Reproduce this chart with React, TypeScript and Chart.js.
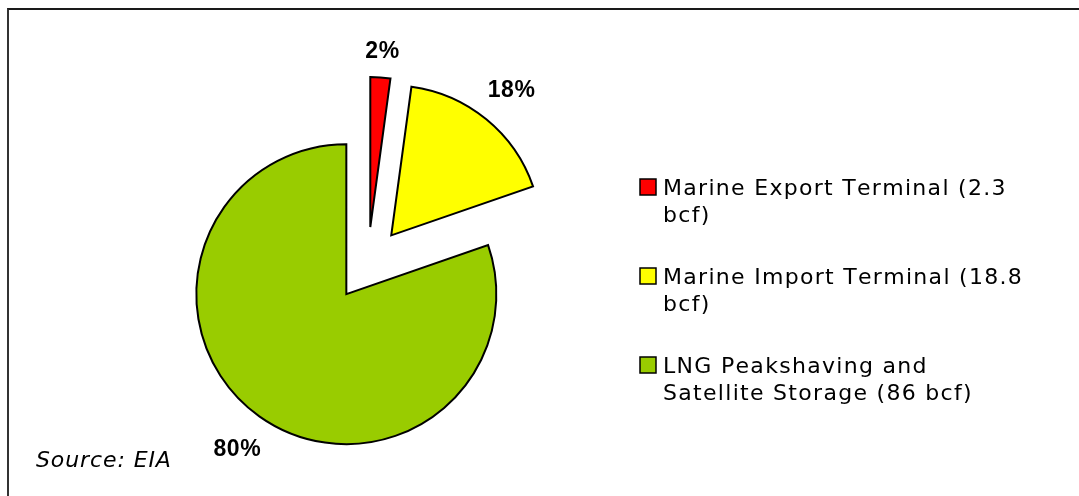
import React, { useEffect, useRef } from 'react';
import { Chart, registerables } from 'chart.js';

Chart.register(...registerables);

// ---- data ----
const categories = [
  'Marine Export Terminal (2.3 bcf)',
  'Marine Import Terminal (18.8 bcf)',
  'LNG Peakshaving and Satellite Storage (86 bcf)',
];
const legendLines = [
  ['Marine Export Terminal (2.3', 'bcf)'],
  ['Marine Import Terminal (18.8', 'bcf)'],
  ['LNG Peakshaving and', 'Satellite Storage (86 bcf)'],
];
const values = [2.3, 18.8, 86];
const colors = ['#FF0000', '#FFFF00', '#99CC00'];
const sourceText = 'Source: EIA';

// ---- helpers ----
function spacedWidth(ctx: CanvasRenderingContext2D, text: string, ls: number) {
  if (!ls) return ctx.measureText(text).width;
  let w = 0;
  for (const ch of text) w += ctx.measureText(ch).width + ls;
  return w - ls;
}
function drawSpaced(ctx: CanvasRenderingContext2D, text: string, x: number, y: number, ls: number) {
  if (!ls) {
    ctx.fillText(text, x, y);
    return;
  }
  let cx = x;
  for (const ch of text) {
    ctx.fillText(ch, cx, y);
    cx += ctx.measureText(ch).width + ls;
  }
}

const explodePlugin = {
  id: 'explodeDraw',
  beforeDatasetDraw(chart: any, args: any, opts: any) {
    const ctx = chart.ctx;
    const d = opts.distance || 0;
    args.meta.data.forEach((arc: any) => {
      const half = (arc.startAngle + arc.endAngle) / 2;
      ctx.save();
      ctx.translate(Math.cos(half) * d, Math.sin(half) * d);
      arc.draw(ctx);
      ctx.restore();
    });
    return false;
  },
};

const pctLabelPlugin = {
  id: 'pctLabels',
  afterDatasetsDraw(chart: any, _args: any, opts: any) {
    const ctx = chart.ctx;
    const meta = chart.getDatasetMeta(0);
    const data = chart.data.datasets[0].data as number[];
    const total = data.reduce((a, b) => a + b, 0);
    ctx.save();
    ctx.font = opts.font;
    ctx.fillStyle = '#000';
    ctx.textBaseline = 'alphabetic';
    ctx.textAlign = 'left';
    meta.data.forEach((arc: any, i: number) => {
      const txt = Math.round((data[i] / total) * 100) + '%';
      const half = (arc.startAngle + arc.endAngle) / 2;
      const dx = Math.cos(half), dy = Math.sin(half);
      const w = spacedWidth(ctx, txt, opts.letterSpacing);
      const h = opts.height;
      const r = arc.outerRadius + opts.explode + opts.gap + Math.abs(dx) * w / 2 + Math.abs(dy) * h / 2;
      const cx = arc.x + dx * r;
      const cy = arc.y + dy * r;
      drawSpaced(ctx, txt, cx - w / 2, cy + h / 2, opts.letterSpacing);
    });
    ctx.restore();
  },
};

const legendPlugin = {
  id: 'sideLegend',
  afterDraw(chart: any, _args: any, opts: any) {
    const ctx = chart.ctx;
    const ds = chart.data.datasets[0];
    ctx.save();
    ctx.font = opts.font;
    ctx.textBaseline = 'alphabetic';
    ctx.textAlign = 'left';
    opts.lines.forEach((lines: string[], i: number) => {
      const base = opts.y + i * opts.itemGap;
      ctx.fillStyle = ds.backgroundColor[i];
      ctx.fillRect(opts.x, base - opts.box, opts.box, opts.box);
      ctx.lineWidth = 1.5;
      ctx.strokeStyle = '#000';
      ctx.strokeRect(opts.x, base - opts.box, opts.box, opts.box);
      ctx.fillStyle = '#000';
      lines.forEach((ln, j) => {
        drawSpaced(ctx, ln, opts.x + opts.box + opts.textGap, base + j * opts.lineHeight, opts.letterSpacing);
      });
    });
    // source note
    ctx.font = opts.sourceFont;
    drawSpaced(ctx, opts.source, opts.sourceX, opts.sourceY, opts.sourceSpacing);
    ctx.restore();
  },
};

export default function App() {
  const ref = useRef<HTMLCanvasElement | null>(null);
  useEffect(() => {
    if (!ref.current) return;
    const chart = new Chart(ref.current, {
      type: 'pie',
      data: {
        labels: categories,
        datasets: [
          {
            data: values,
            backgroundColor: colors,
            borderColor: '#000000',
            borderWidth: 2,
            borderJoinStyle: 'miter',
          } as any,
        ],
      },
      options: {
        responsive: false,
        animation: false,
        radius: 150,
        layout: { padding: { left: 0, right: 343.4, top: 32, bottom: 0 } },
        plugins: {
          legend: { display: false },
          tooltip: { enabled: false },
          explodeDraw: { distance: 37 },
          pctLabels: {
            font: 'bold 23px "Liberation Sans", Arial, sans-serif',
            letterSpacing: 0.6,
            height: 16.5,
            explode: 37,
            gap: 18,
          },
          sideLegend: {
            lines: legendLines,
            font: '22px "DejaVu Sans", Verdana, sans-serif',
            letterSpacing: 1.3,
            x: 640,
            y: 195,
            box: 16,
            textGap: 7,
            itemGap: 89,
            lineHeight: 26.7,
            source: sourceText,
            sourceFont: 'italic 22px "DejaVu Sans", Verdana, sans-serif',
            sourceSpacing: 0.9,
            sourceX: 36,
            sourceY: 467,
          },
        } as any,
      },
      plugins: [explodePlugin, pctLabelPlugin, legendPlugin],
    });
    return () => chart.destroy();
  }, []);

  return (
    <div style={{ position: 'fixed', left: 0, top: 0, width: 1079, height: 496, overflow: 'hidden', background: '#fff' }}>
      <div
        style={{
          position: 'absolute',
          left: 7,
          top: 8,
          width: 2000,
          height: 2000,
          borderTop: '2px solid #1a1a1a',
          borderLeft: '2px solid #333',
        }}
      />
      <canvas ref={ref} width={1079} height={496} style={{ position: 'absolute', left: 0, top: 0 }} />
    </div>
  );
}
